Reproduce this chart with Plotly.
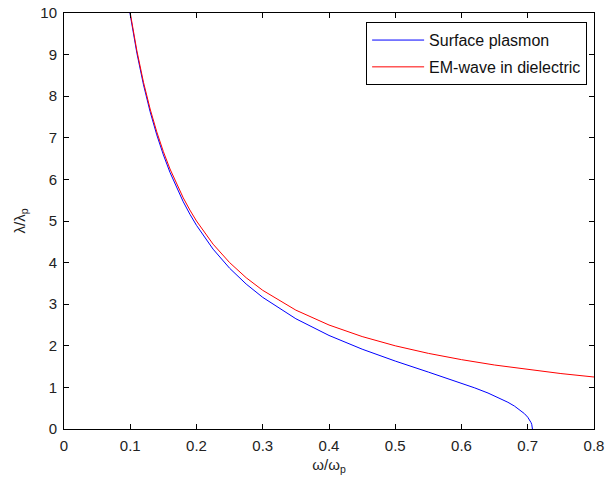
import plotly.graph_objects as go

# Surface plasmon branch
sp_x = [0.0995, 0.10, 0.11, 0.12, 0.13, 0.14, 0.15, 0.16, 0.17, 0.18, 0.19, 0.20,
        0.225, 0.25, 0.275, 0.30, 0.35, 0.40, 0.45, 0.50, 0.55, 0.58, 0.60, 0.62,
        0.64, 0.66, 0.67, 0.68, 0.69, 0.695, 0.70, 0.703, 0.705, 0.706, 0.7071]
sp_y = [10.0, 9.949, 9.035, 8.272, 7.626, 7.071, 6.590, 6.167, 5.794, 5.462, 5.164, 4.895,
        4.324, 3.864, 3.484, 3.164, 2.650, 2.249, 1.919, 1.633, 1.368, 1.211, 1.102, 0.988,
        0.865, 0.724, 0.643, 0.550, 0.438, 0.369, 0.283, 0.215, 0.154, 0.112, 0.0]

# EM-wave in dielectric
em_x = [0.10, 0.11, 0.12, 0.13, 0.14, 0.15, 0.16, 0.17, 0.18, 0.19, 0.20, 0.225, 0.25,
        0.275, 0.30, 0.35, 0.40, 0.45, 0.50, 0.55, 0.60, 0.65, 0.70, 0.75, 0.80]
em_y = [10.0, 9.091, 8.333, 7.692, 7.143, 6.667, 6.250, 5.882, 5.556, 5.263, 5.000, 4.444, 4.000,
        3.636, 3.333, 2.857, 2.500, 2.222, 2.000, 1.818, 1.667, 1.538, 1.429, 1.333, 1.250]

x_ticks = [0, 0.1, 0.2, 0.3, 0.4, 0.5, 0.6, 0.7, 0.8]
x_tick_text = ["0", "0.1", "0.2", "0.3", "0.4", "0.5", "0.6", "0.7", "0.8"]
y_ticks = [0, 1, 2, 3, 4, 5, 6, 7, 8, 9, 10]

fig = go.Figure()
fig.add_trace(go.Scatter(x=sp_x, y=sp_y, mode="lines", name="Surface plasmon",
                         legendgroup="sp",
                         line=dict(color="#0000ff", width=1)))
fig.add_trace(go.Scatter(x=em_x, y=em_y, mode="lines", name="EM-wave in dielectric",
                         legendgroup="em",
                         line=dict(color="#ff0000", width=1)))

axis_common = dict(showgrid=False, zeroline=False, showline=True, linecolor="black",
                   linewidth=1, mirror="ticks", ticks="inside", ticklen=5,
                   tickcolor="black", tickfont=dict(size=15, color="#222"),
                   automargin=False)

fig.update_xaxes(range=[0, 0.8], tickvals=x_ticks, ticktext=x_tick_text,
                 ticklabelstandoff=3,
                 title=dict(text="ω/ω<sub>p</sub>", font=dict(size=15, color="#222"), standoff=6),
                 **axis_common)
fig.update_yaxes(range=[0, 10], tickvals=y_ticks, ticklabelstandoff=3,
                 title=dict(text="λ/λ<sub>p</sub>", font=dict(size=15, color="#222"), standoff=11),
                 **axis_common)

fig.update_layout(
    width=605, height=483,
    margin=dict(l=64, r=11, t=13, b=54),
    paper_bgcolor="white", plot_bgcolor="white",
    font=dict(family="Liberation Sans, Arial, sans-serif", size=15, color="#222"),
    legend=dict(x=0.987, y=0.978, xanchor="right", yanchor="top",
                bgcolor="white", bordercolor="black", borderwidth=1,
                itemwidth=52, tracegroupgap=3,
                font=dict(size=16, color="#111")),
    showlegend=True,
)

fig.write_html("out.html", config={"displayModeBar": False},
               post_script="document.body.style.margin='0px';document.body.style.padding='0px';")
